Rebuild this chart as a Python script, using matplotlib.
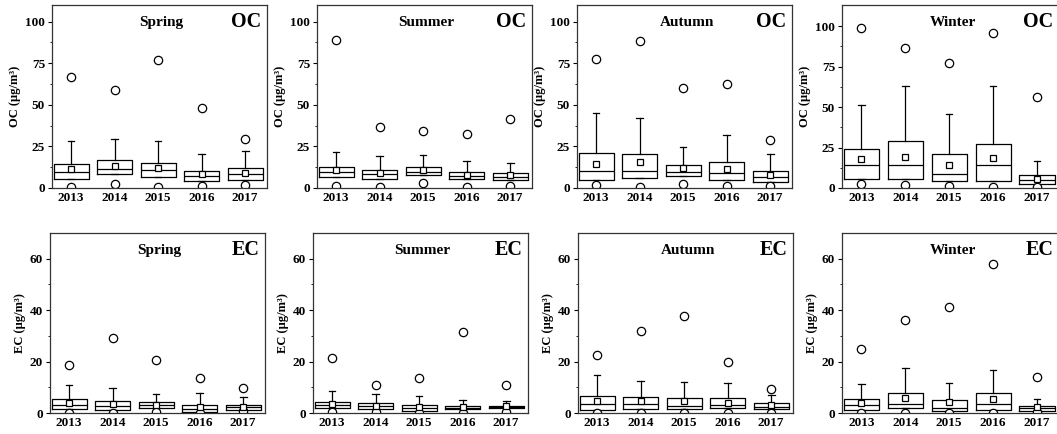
import matplotlib
matplotlib.use("Agg")
import matplotlib.pyplot as plt

years = ["2013", "2014", "2015", "2016", "2017"]
seasons = ["Spring", "Summer", "Autumn", "Winter"]

# OC statistics per season (rows) and year (columns)
oc_q1 = [[5.7, 8.7, 6.5, 4.0, 4.8],
         [6.9, 5.5, 7.9, 5.5, 4.8],
         [5.1, 5.9, 7.1, 5.1, 3.4],
         [5.8, 5.8, 4.6, 4.2, 2.7]]
oc_med = [[9.5, 11.7, 10.7, 7.3, 8.3],
          [9.7, 8.5, 9.9, 7.5, 6.7],
          [10.5, 10.5, 9.5, 9.1, 6.7],
          [14.2, 14.2, 8.8, 14.2, 4.8]]
oc_q3 = [[14.3, 16.6, 15.2, 10.5, 12.1],
         [12.7, 11.1, 12.7, 9.7, 9.1],
         [21.0, 20.4, 14.1, 15.4, 10.5],
         [24.0, 29.0, 21.3, 27.3, 8.3]]
oc_whishi = [[28.1, 29.3, 28.1, 20.6, 22.0],
             [21.6, 19.4, 19.8, 16.0, 15.2],
             [44.8, 41.8, 24.6, 31.7, 20.2],
             [51.0, 63.1, 45.4, 62.7, 16.7]]
oc_mean = [[11.7, 13.5, 12.1, 8.7, 9.1],
           [10.7, 8.9, 10.9, 8.1, 7.7],
           [14.5, 15.8, 11.9, 11.3, 7.7],
           [17.9, 19.4, 14.0, 18.8, 5.8]]
oc_max = [[66.9, 59.2, 77.0, 47.9, 29.5],
          [88.7, 36.6, 34.3, 32.5, 41.6],
          [77.8, 88.1, 60.2, 62.6, 28.7],
          [98.5, 86.5, 77.0, 96.0, 56.5]]
oc_min = [[0.6, 2.2, 0.6, 1.2, 1.8],
          [1.2, 0.6, 3.0, 0.6, 1.2],
          [1.6, 0.6, 2.2, 1.2, 1.0],
          [2.5, 1.7, 1.3, 0.6, 0.6]]

# EC statistics per season (rows) and year (columns)
ec_q1 = [[1.4, 1.0, 1.8, 0.3, 1.3],
         [1.9, 1.6, 0.9, 1.4, 1.8],
         [1.0, 1.4, 1.6, 1.8, 1.6],
         [1.3, 1.8, 0.6, 1.0, 0.9]]
ec_med = [[3.1, 2.7, 3.0, 1.6, 2.2],
          [3.2, 2.6, 1.9, 2.1, 2.2],
          [3.5, 3.4, 2.7, 3.0, 2.5],
          [3.1, 3.5, 1.9, 3.5, 1.9]]
ec_q3 = [[5.4, 4.7, 4.1, 3.1, 3.1],
         [4.4, 3.8, 3.2, 2.8, 2.8],
         [6.6, 6.1, 5.7, 5.7, 4.0],
         [5.4, 7.9, 5.0, 7.6, 2.8]]
ec_whishi = [[11.0, 9.8, 7.5, 7.9, 6.3],
             [8.5, 7.2, 6.6, 5.0, 4.7],
             [14.6, 12.5, 11.9, 11.6, 7.1],
             [11.4, 17.6, 11.8, 16.8, 5.4]]
ec_mean = [[3.9, 3.5, 3.1, 2.2, 2.5],
           [3.5, 2.7, 2.2, 2.3, 2.6],
           [4.5, 4.8, 4.8, 4.0, 3.0],
           [3.8, 5.7, 4.1, 5.4, 2.2]]
ec_max = [[18.8, 29.1, 20.6, 13.6, 9.6],
          [21.2, 10.9, 13.6, 31.6, 10.7],
          [22.6, 31.8, 37.8, 19.9, 9.4],
          [24.7, 36.1, 41.1, 58.1, 14.0]]
ec_min = [[0.0, 0.0, 0.3, 0.0, 0.6],
          [0.3, 0.3, 0.0, 0.0, 0.3],
          [0.0, 0.0, 0.0, 0.0, 0.0],
          [0.0, 0.0, 0.0, 0.0, 0.3]]

oc_ylim = [110, 110, 110, 113]
ec_ylim = [70, 70, 70, 70]

W, H = 1057, 434
fig = plt.figure(figsize=(W / 100, H / 100), dpi=100)
serif = "Liberation Serif"

top_lefts = [52, 317, 577, 842]
bot_lefts = [50, 313, 578, 842]


def make_panel(left, top, bottom, width, q1, med, q3, whi, mean, mx, mn,
               ylim, yticks, minor, season, species):
    ax = fig.add_axes([left / W, 1 - bottom / H, width / W, (bottom - top) / H])
    stats = []
    for i in range(len(years)):
        stats.append(dict(med=med[i], q1=q1[i], q3=q3[i], whislo=q1[i],
                          whishi=whi[i], mean=mean[i], fliers=[mx[i], mn[i]]))
    ax.bxp(stats, positions=range(1, 6), widths=0.8, showmeans=True,
           capwidths=0.15,
           boxprops=dict(color="black", linewidth=0.9),
           medianprops=dict(color="black", linewidth=0.9),
           whiskerprops=dict(color="black", linewidth=0.9),
           capprops=dict(color="black", linewidth=0.9),
           meanprops=dict(marker="s", markerfacecolor="white",
                          markeredgecolor="black", markersize=5,
                          markeredgewidth=0.9),
           flierprops=dict(marker="o", markerfacecolor="white",
                           markeredgecolor="black", markersize=6,
                           markeredgewidth=0.9))
    ax.set_xlim(0.56, 5.5)
    ax.set_ylim(0, ylim)
    ax.set_xticks(range(1, 6))
    ax.set_xticklabels(years, fontfamily=serif, fontweight="bold", fontsize=9.5)
    ax.set_yticks(yticks)
    ax.set_yticklabels([str(t) for t in yticks], fontfamily=serif,
                       fontweight="bold", fontsize=9.5)
    ax.set_yticks(minor, minor=True)
    ax.tick_params(axis="x", length=0, pad=3)
    ax.tick_params(axis="y", which="major", direction="out", length=3,
                   width=0.8, pad=2)
    ax.tick_params(axis="y", which="minor", direction="out", length=1.8, width=0.6)
    for s in ax.spines.values():
        s.set_linewidth(0.9)
        s.set_color("#333333")
    ax.set_ylabel(f"{species} (μg/m³)", fontfamily=serif, fontweight="bold",
                  fontsize=9, labelpad=3)
    ax.text(0.51, 0.905, season, transform=ax.transAxes, ha="center",
            va="center", fontfamily=serif, fontweight="bold", fontsize=11)
    ax.text(0.975, 0.905, species, transform=ax.transAxes, ha="right",
            va="center", fontfamily=serif, fontweight="bold", fontsize=14.5)
    return ax


for k in range(4):
    make_panel(top_lefts[k], 5, 188, 217 if k == 3 else 215,
               oc_q1[k], oc_med[k], oc_q3[k], oc_whishi[k], oc_mean[k],
               oc_max[k], oc_min[k], oc_ylim[k], [0, 25, 50, 75, 100],
               [12.5, 37.5, 62.5, 87.5], seasons[k], "OC")
    make_panel(bot_lefts[k], 233, 413, 217 if k == 3 else 215,
               ec_q1[k], ec_med[k], ec_q3[k], ec_whishi[k], ec_mean[k],
               ec_max[k], ec_min[k], ec_ylim[k], [0, 20, 40, 60],
               [10, 30, 50], seasons[k], "EC")

fig.savefig("out.png", dpi=100)
